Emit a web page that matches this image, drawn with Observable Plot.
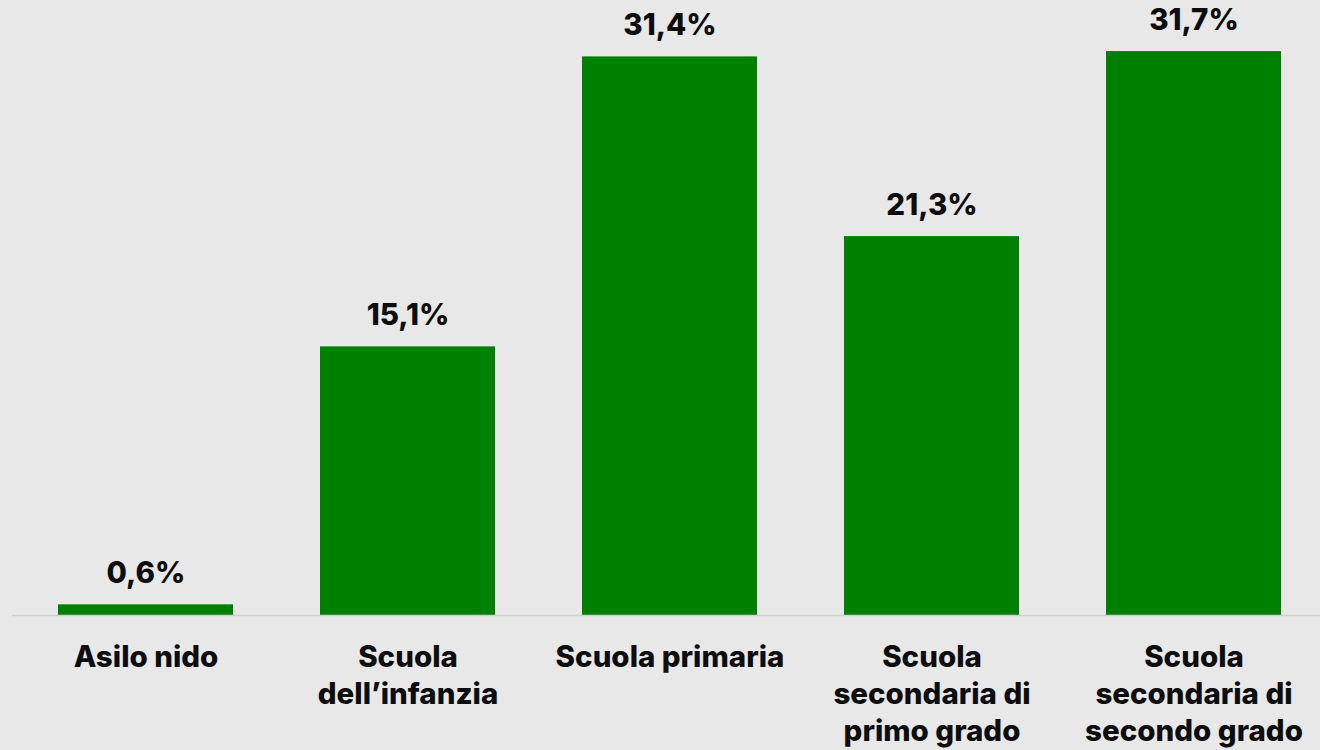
<!DOCTYPE html>
<html>
<head>
<meta charset="utf-8">
<script src="https://cdn.jsdelivr.net/npm/d3@7"></script>
<script src="https://cdn.jsdelivr.net/npm/@observablehq/plot@0.6"></script>
<style>
  html, body { margin: 0; padding: 0; background: #e8e8e8; }
  #chart { width: 1320px; height: 750px; overflow: hidden; }
  svg { display: block; }
</style>
</head>
<body>
<div id="chart"></div>
<script>
const categories = [
  "Asilo nido",
  "Scuola dell’infanzia",
  "Scuola primaria",
  "Scuola secondaria di primo grado",
  "Scuola secondaria di secondo grado"
];
const tickLabels = [
  "Asilo nido",
  "Scuola\ndell’infanzia",
  "Scuola primaria",
  "Scuola\nsecondaria di\nprimo grado",
  "Scuola\nsecondaria di\nsecondo grado"
];
const values = [0.6, 15.1, 31.4, 21.3, 31.7];

const data = categories.map((c, i) => ({cat: c, label: tickLabels[i], value: values[i]}));
const fmt = v => v.toFixed(1).replace(".", ",") + "%";

const chart = Plot.plot({
  width: 1320,
  height: 750,
  marginTop: 0,
  marginBottom: 135,
  marginLeft: 12,
  marginRight: -7,
  style: {background: "#e8e8e8", fontFamily: "Inter, sans-serif", overflow: "hidden"},
  x: {domain: categories, paddingInner: 0.3333, paddingOuter: 0.1714, axis: null},
  y: {domain: [0, 34.57], axis: null},
  marks: [
    Plot.barY(data, {x: "cat", y: "value", fill: "#008000"}),
    Plot.ruleY([0], {stroke: "#cfcfcf", strokeWidth: 1.5}),
    Plot.text(data, {x: "cat", y: "value", text: d => fmt(d.value), dy: -31,
      fontSize: 29.5, fontWeight: 800, fill: "#0d0d0d"}),
    Plot.text(data, {x: "cat", text: "label", frameAnchor: "bottom", lineAnchor: "top",
      dy: 25, lineHeight: 1.26, fontSize: 29.5, fontWeight: 800, fill: "#0d0d0d"})
  ]
});
document.getElementById("chart").appendChild(chart);
</script>
</body>
</html>
